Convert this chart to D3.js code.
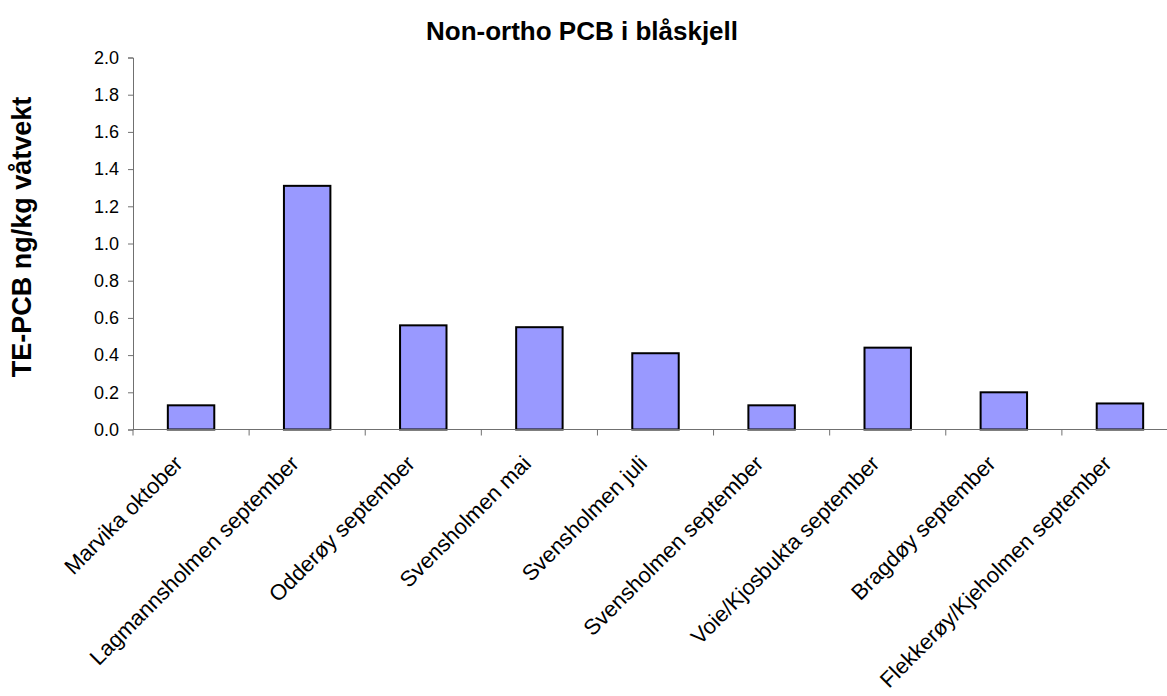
<!DOCTYPE html>
<html>
<head>
<meta charset="utf-8">
<script src="https://cdn.jsdelivr.net/npm/d3@7"></script>
<style>
  body { margin: 0; background: #fff; }
  svg { display: block; font-family: Arial, "Liberation Sans", sans-serif; }
</style>
</head>
<body>
<div id="chart"></div>
<script>
// chart data
const categories = [
    'Marvika oktober',
    'Lagmannsholmen september',
    'Odderøy september',
    'Svensholmen mai',
    'Svensholmen juli',
    'Svensholmen september',
    'Voie/Kjosbukta september',
    'Bragdøy september',
    'Flekkerøy/Kjeholmen september'
];
const values = [0.13, 1.31, 0.56, 0.55, 0.41, 0.13, 0.44, 0.20, 0.14];
const yTicks = [0, 0.2, 0.4, 0.6, 0.8, 1.0, 1.2, 1.4, 1.6, 1.8, 2.0];

const width = 1167;
const height = 696;

// plot area (right edge runs past the picture, like the original)
const plotLeft = 133, plotRight = 1178, plotTop = 57.5, plotBottom = 429.5;

const svg = d3.select('#chart')
    .append('svg')
    .attr('width', width)
    .attr('height', height);

const xScale = d3.scaleBand()
    .domain(categories)
    .range([plotLeft, plotRight])
    .padding(0);

const yScale = d3.scaleLinear()
    .domain([0, 2])
    .range([plotBottom, plotTop]);

const step = xScale.step();

// bars
svg.append('g')
    .selectAll('rect')
    .data(values)
    .enter()
    .append('rect')
        .attr('x', (d, i) => xScale(categories[i]) + step * 0.3)
        .attr('y', d => yScale(d))
        .attr('width', step * 0.4)
        .attr('height', d => plotBottom - yScale(d))
        .attr('fill', '#9999ff')
        .attr('stroke', '#000')
        .attr('stroke-width', 2);

// y axis
const yAxis = d3.axisLeft(yScale)
    .tickValues(yTicks)
    .tickSize(5)
    .tickPadding(9)
    .tickFormat(d3.format('.1f'));

const yG = svg.append('g')
    .attr('transform', `translate(${plotLeft},0)`)
    .call(yAxis);

yG.select('.domain').attr('stroke', '#707070');
yG.selectAll('.tick line').attr('stroke', '#707070');
yG.selectAll('.tick text')
    .attr('font-size', 18)
    .attr('fill', '#000')
    .attr('font-family', 'Arial, "Liberation Sans", sans-serif');

// x axis line and tick marks on band edges
const xG = svg.append('g');
xG.append('line')
    .attr('x1', plotLeft)
    .attr('x2', plotRight)
    .attr('y1', plotBottom)
    .attr('y2', plotBottom)
    .attr('stroke', '#707070');

const edges = d3.range(categories.length + 1).map(i => plotLeft + i * step);
xG.selectAll('.xtick')
    .data(edges)
    .enter()
    .append('line')
        .attr('class', 'xtick')
        .attr('x1', d => d)
        .attr('x2', d => d)
        .attr('y1', plotBottom)
        .attr('y2', plotBottom + 6)
        .attr('stroke', '#707070');

// rotated category labels
xG.selectAll('.xlabel')
    .data(categories)
    .enter()
    .append('text')
        .attr('class', 'xlabel')
        .attr('transform', d => `translate(${xScale(d) + step / 2 - 7},465) rotate(-45)`)
        .attr('text-anchor', 'end')
        .attr('font-size', 22)
        .attr('fill', '#000')
        .text(d => d);

// title
svg.append('text')
    .attr('x', 582)
    .attr('y', 40)
    .attr('text-anchor', 'middle')
    .attr('font-size', 26)
    .attr('font-weight', 'bold')
    .text('Non-ortho PCB i blåskjell');

// y axis title
svg.append('text')
    .attr('transform', 'translate(31,237) rotate(-90)')
    .attr('text-anchor', 'middle')
    .attr('font-size', 27)
    .attr('font-weight', 'bold')
    .text('TE-PCB ng/kg våtvekt');
</script>
</body>
</html>
